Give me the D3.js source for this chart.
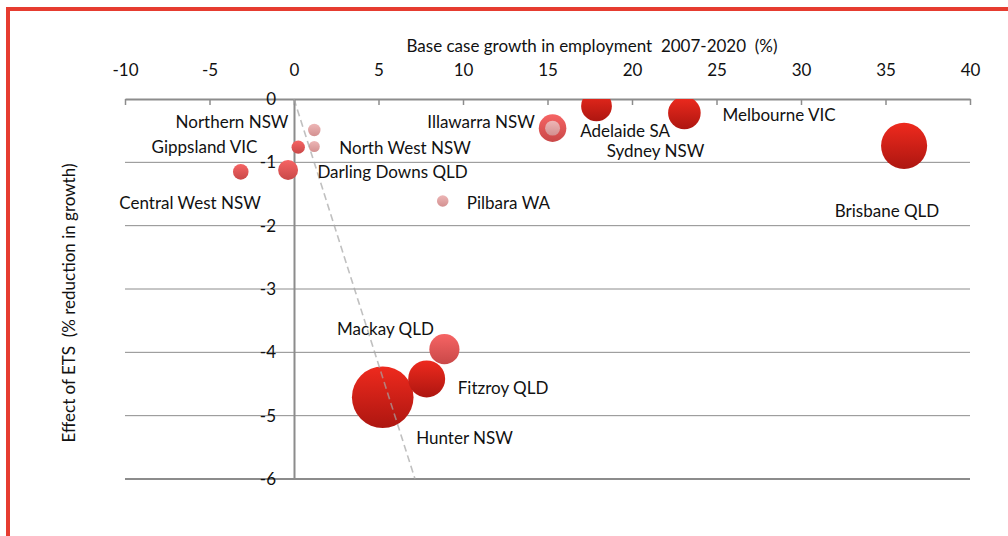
<!DOCTYPE html>
<html>
<head>
<meta charset="utf-8">
<script src="https://cdn.jsdelivr.net/npm/d3@7/dist/d3.min.js"></script>
<style>
  html, body { margin: 0; padding: 0; background: #fff; }
  svg { display: block; }
  text { font-family: Lato, "Open Sans", sans-serif; fill: #111; white-space: pre; }
</style>
</head>
<body>
<svg id="chart" width="1008" height="536"></svg>
<script>
// Regions and their values
const regions = ["Hunter NSW", "Brisbane QLD", "Fitzroy QLD", "Melbourne VIC", "Adelaide SA",
  "Mackay QLD", "Illawarra NSW", "Darling Downs QLD", "Central West NSW", "Sydney NSW",
  "Gippsland VIC", "Northern NSW", "Pilbara WA", "North West NSW"];
// Base case growth in employment 2007-2020 (%)
const growth = [5.25, 36.1, 7.85, 23.1, 17.9, 8.9, 15.3, -0.35, -3.15, 15.3, 0.25, 1.2, 8.8, 1.2];
// Effect of ETS (% reduction in growth)
const effect = [-4.71, -0.74, -4.42, -0.22, -0.11, -3.95, -0.46, -1.12, -1.15, -0.46, -0.76, -0.49, -1.61, -0.75];
// Bubble size (relative)
const bubbleSize = [100, 56, 36, 28, 25, 24, 20, 10.5, 6.4, 5.9, 4.7, 4.1, 3.5, 3.2];
// Colour tier of each bubble: 0 strong, 1 medium, 2 light
const tier = [0, 0, 0, 0, 0, 1, 1, 1, 1, 2, 1, 2, 2, 2];

// Axis ticks
const xTicks = [-10, -5, 0, 5, 10, 15, 20, 25, 30, 35, 40];
const yTicks = [0, -1, -2, -3, -4, -5, -6];

// Dashed trend line end points
const trendX = [0, 7.16];
const trendY = [0, -6];

// Label anchors (label centres, in axis units)
const labelAt = {
  "Northern NSW": [-3.67, -0.35],
  "Gippsland VIC": [-5.3, -0.745],
  "North West NSW": [6.57, -0.77],
  "Darling Downs QLD": [5.83, -1.145],
  "Central West NSW": [-6.15, -1.63],
  "Pilbara WA": [12.69, -1.63],
  "Illawarra NSW": [11.07, -0.36],
  "Adelaide SA": [19.59, -0.5],
  "Sydney NSW": [21.39, -0.81],
  "Melbourne VIC": [28.7, -0.24],
  "Brisbane QLD": [35.09, -1.76],
  "Mackay QLD": [5.41, -3.63],
  "Fitzroy QLD": [12.37, -4.55],
  "Hunter NSW": [10.09, -5.35]
};

const FONT = "17px";
const svg = d3.select("#chart");

// Outer chart frame
svg.append("rect")
  .attr("x", 8).attr("y", 9)
  .attr("width", 1200).attr("height", 700)
  .attr("fill", "#fff")
  .attr("stroke", "#e63c30").attr("stroke-width", 4);

const x = d3.scaleLinear().domain([-10, 40]).range([125, 970]);
const y = d3.scaleLinear().domain([-6, 0]).range([479, 99]);
const r = d3.scaleSqrt().domain([0, 100]).range([0, 30.8]);

const defs = svg.append("defs");
defs.append("clipPath").attr("id", "plotClip")
  .append("rect")
  .attr("x", x(-10)).attr("y", y(0))
  .attr("width", x(40) - x(-10)).attr("height", y(-6) - y(0));

const tierColours = [
  ["#ee2a1e", "#ad1610"],
  ["#f66464", "#c94848"],
  ["#edb6b6", "#d39090"]
];
tierColours.forEach((c, i) => {
  const g = defs.append("linearGradient").attr("id", "tier" + i)
    .attr("x1", 0).attr("y1", 0).attr("x2", 0).attr("y2", 1);
  g.append("stop").attr("offset", "0%").attr("stop-color", c[0]);
  g.append("stop").attr("offset", "100%").attr("stop-color", c[1]);
});

// Horizontal gridlines
svg.append("g").selectAll("line")
  .data(yTicks.filter(t => t !== 0))
  .join("line")
  .attr("x1", x(-10)).attr("x2", x(40))
  .attr("y1", d => y(d)).attr("y2", d => y(d))
  .attr("stroke", "#8c8c8c")
  .attr("stroke-width", d => d === -6 ? 2 : 1);

const fmt = d => d < 0 ? "-" + Math.abs(d) : String(d);

// Top x axis with inward ticks
const xAxis = svg.append("g")
  .attr("transform", `translate(0,${y(0)})`)
  .call(d3.axisTop(x).tickValues(xTicks).tickFormat(fmt)
    .tickSizeInner(-6).tickSizeOuter(0).tickPadding(23));
xAxis.select(".domain").attr("stroke", "#8c8c8c").attr("stroke-width", 2);
xAxis.selectAll(".tick line").attr("stroke", "#8c8c8c").attr("stroke-width", 1.5);
xAxis.selectAll(".tick text")
  .style("font-family", "Lato, sans-serif").style("font-size", FONT).attr("fill", "#111");

// Vertical axis through x = 0
const yAxis = svg.append("g")
  .attr("transform", `translate(${x(0)},0)`)
  .call(d3.axisLeft(y).tickValues(yTicks).tickSize(0).tickPadding(18).tickFormat(fmt));
yAxis.select(".domain").attr("stroke", "#8c8c8c").attr("stroke-width", 2);
yAxis.selectAll(".tick text")
  .style("font-family", "Lato, sans-serif").style("font-size", FONT).attr("fill", "#111");

// Bubbles
const points = regions.map((name, i) => ({
  name, gx: growth[i], ef: effect[i], size: bubbleSize[i], tier: tier[i]
}));

svg.append("g").attr("clip-path", "url(#plotClip)")
  .selectAll("circle")
  .data(points)
  .join("circle")
  .attr("cx", d => x(d.gx))
  .attr("cy", d => y(d.ef))
  .attr("r", d => r(d.size))
  .attr("fill", d => `url(#tier${d.tier})`);

// Dashed trend line
svg.append("path")
  .datum(trendX.map((v, i) => [v, trendY[i]]))
  .attr("d", d3.line().x(d => x(d[0])).y(d => y(d[1])))
  .attr("fill", "none")
  .attr("stroke", "rgb(165,165,165)")
  .attr("stroke-opacity", 0.7)
  .attr("stroke-width", 1.6)
  .attr("stroke-dasharray", "7,4");

// Region labels
svg.append("g").selectAll("text")
  .data(regions)
  .join("text")
  .attr("x", d => x(labelAt[d][0]))
  .attr("y", d => y(labelAt[d][1]))
  .attr("text-anchor", "middle")
  .attr("dominant-baseline", "central")
  .style("font-size", FONT)
  .text(d => d);

// Axis titles
svg.append("text")
  .attr("x", 592).attr("y", 45)
  .attr("text-anchor", "middle")
  .attr("dominant-baseline", "central")
  .style("font-size", FONT)
  .text("Base case growth in employment  2007-2020  (%)");

svg.append("text")
  .attr("transform", `translate(68,${303}) rotate(-90)`)
  .attr("text-anchor", "middle")
  .attr("dominant-baseline", "central")
  .style("font-size", FONT)
  .text("Effect of ETS  (% reduction in growth)");
</script>
</body>
</html>
